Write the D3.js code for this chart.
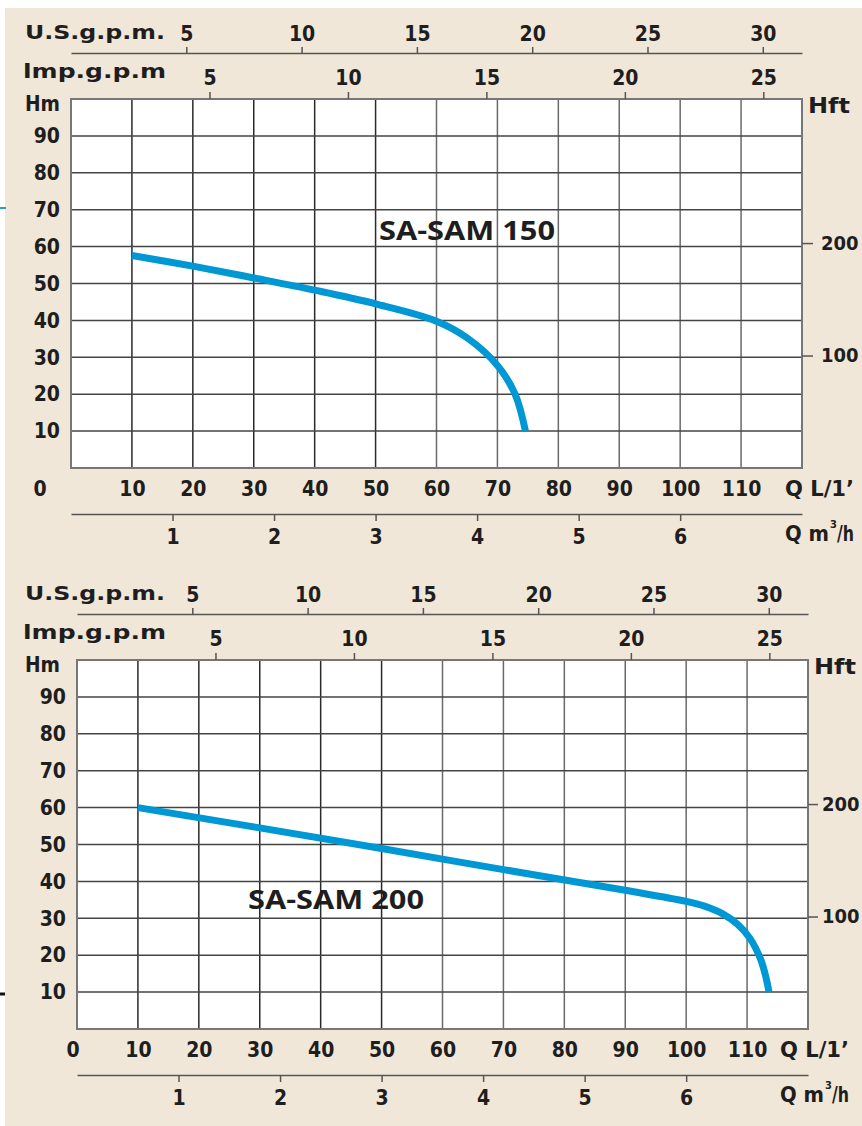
<!DOCTYPE html>
<html>
<head>
<meta charset="utf-8">
<script src="https://cdn.jsdelivr.net/npm/d3@7"></script>
<style>
  body { margin: 0; background: #ffffff; }
  svg { display: block; }
  .lbl { font-family: "DejaVu Sans Condensed", "DejaVu Sans", sans-serif; font-stretch: condensed; font-weight: bold; fill: #1e1e1e; }
</style>
</head>
<body>
<svg id="chart"></svg>
<script>
// tick labels (flow in L/min, head in m)
const flowTicks = [10, 20, 30, 40, 50, 60, 70, 80, 90, 100, 110];
const headTicks = [10, 20, 30, 40, 50, 60, 70, 80, 90];
const usGpmTicks = [5, 10, 15, 20, 25, 30];
const impGpmTicks = [5, 10, 15, 20, 25];
const m3hTicks = [1, 2, 3, 4, 5, 6];
const hftTicks = [100, 200];

// pump curves: Q (L/min) -> H (m)
const sam150Flow = [10, 20, 30, 40, 50, 60, 65, 70, 72.9, 74.6];
const sam150Head = [57.6, 54.7, 51.5, 48.2, 44.5, 39.8, 35.3, 27.8, 20, 10];
const sam200Flow = [10, 30, 50, 70, 90, 100, 103, 106, 108.5, 110.5, 112.2, 113.1, 113.6];
const sam200Head = [60, 54.5, 48.9, 43.2, 37.6, 34.6, 33.3, 31.2, 28.3, 24.5, 19, 14, 10];

const width = 862, height = 1126;
const svg = d3.select("#chart").attr("width", width).attr("height", height);

// panel background
svg.append("rect").attr("x", 5).attr("y", 8).attr("width", width - 5).attr("height", height - 8).attr("fill", "#f1e7d8");
svg.append("line").attr("x1", 0).attr("x2", 6).attr("y1", 208).attr("y2", 208).attr("stroke", "#2aa0d0").attr("stroke-width", 2);
svg.append("line").attr("x1", 0).attr("x2", 5).attr("y1", 994).attr("y2", 994).attr("stroke", "#111").attr("stroke-width", 3);

function styleAxis(g, size) {
    g.select(".domain").attr("stroke", "#555").attr("stroke-width", 1.5);
    g.selectAll(".tick line").attr("stroke", "#555").attr("stroke-width", 1.5);
    g.selectAll(".tick text").attr("class", "lbl").style("font-size", size + "px").attr("fill", "#1e1e1e");
    g.attr("font-family", null).attr("font-size", null);
}

function drawChart(cfg) {
    const x = d3.scaleLinear().domain([0, 120]).range([cfg.left, cfg.left + 731]);
    const y = d3.scaleLinear().domain([0, 100]).range([cfg.top + 369, cfg.top]);
    const bottom = y(0), right = x(120);
    const g = svg.append("g");

    // plot area
    g.append("rect").attr("x", cfg.left).attr("y", cfg.top)
        .attr("width", right - cfg.left).attr("height", bottom - cfg.top)
        .attr("fill", "#ffffff");

    g.selectAll(".vgrid").data(flowTicks).enter().append("line")
        .attr("x1", d => x(d)).attr("x2", d => x(d))
        .attr("y1", cfg.top).attr("y2", bottom)
        .attr("stroke", (d, i) => i < 5 ? "#2a2a2a" : "#6a6a6a").attr("stroke-width", 1.5);

    g.selectAll(".hgrid").data(headTicks).enter().append("line")
        .attr("x1", cfg.left).attr("x2", right)
        .attr("y1", d => y(d)).attr("y2", d => y(d))
        .attr("stroke", "#444").attr("stroke-width", 1.5);

    g.append("rect").attr("x", cfg.left).attr("y", cfg.top)
        .attr("width", right - cfg.left).attr("height", bottom - cfg.top)
        .attr("fill", "none").attr("stroke", "#777").attr("stroke-width", 2);

    // curve
    const pts = cfg.flow.map((q, i) => [q, cfg.head[i]]);
    g.append("path").datum(pts)
        .attr("d", d3.line().x(d => x(d[0])).y(d => y(d[1])).curve(d3.curveCatmullRom.alpha(0.5)))
        .attr("fill", "none").attr("stroke", "#0098d4").attr("stroke-width", 7);

    g.append("text").attr("x", cfg.titleX).attr("y", cfg.titleY)
        .attr("dominant-baseline", "central")
        .attr("textLength", 176).attr("lengthAdjust", "spacingAndGlyphs")
        .style("font-family", "'Open Sans', sans-serif").style("font-weight", 700)
        .style("font-size", "26px").attr("fill", "#1e1e1e")
        .text(cfg.title);

    // main axes
    const xAxis = g.append("g").attr("transform", `translate(0,${bottom})`)
        .call(d3.axisBottom(x).tickValues(flowTicks).tickSize(0).tickPadding(13.5));
    xAxis.select(".domain").remove();
    styleAxis(xAxis, 21);

    const yAxis = g.append("g").attr("transform", `translate(${cfg.left},0)`)
        .call(d3.axisLeft(y).tickValues(headTicks).tickSize(0).tickPadding(11));
    yAxis.select(".domain").remove();
    styleAxis(yAxis, 21);

    g.append("text").attr("class", "lbl").attr("x", cfg.zeroX).attr("y", bottom + 21)
        .attr("text-anchor", "middle").attr("dominant-baseline", "central")
        .style("font-size", "21px").text("0");

    // head in feet on the right
    const yFt = d3.scaleLinear().domain([0, 100 / 0.3048]).range([bottom, cfg.top]);
    const ftAxis = g.append("g").attr("transform", `translate(${right},0)`)
        .call(d3.axisRight(yFt).tickValues(hftTicks).tickSize(cfg.ftTick).tickPadding(cfg.ftPad).tickSizeOuter(0));
    ftAxis.select(".domain").remove();
    styleAxis(ftAxis, 20);

    // US gpm and Imp gpm on top
    const xUs = d3.scaleLinear().domain([0, 120 / 3.78541]).range(x.range());
    const usAxis = g.append("g").attr("transform", `translate(0,${cfg.top - 46})`)
        .call(d3.axisTop(xUs).tickValues(usGpmTicks).tickSize(6).tickPadding(6).tickSizeOuter(0));
    styleAxis(usAxis, 21);

    const xImp = d3.scaleLinear().domain([0, 120 / 4.54609]).range(x.range());
    const impAxis = g.append("g").attr("transform", `translate(0,${cfg.top})`)
        .call(d3.axisTop(xImp).tickValues(impGpmTicks).tickSize(7).tickPadding(7).tickSizeOuter(0));
    impAxis.select(".domain").remove();
    styleAxis(impAxis, 21);

    // m3/h below
    const xM3 = d3.scaleLinear().domain([0, 120 / 16.6667]).range(x.range());
    const m3Axis = g.append("g").attr("transform", `translate(0,${bottom + 46})`)
        .call(d3.axisBottom(xM3).tickValues(m3hTicks).tickSize(7).tickPadding(8.5).tickSizeOuter(0));
    styleAxis(m3Axis, 21);

    // unit labels
    const unit = (tx, ty, txt, size, len) => {
        const t = g.append("text").attr("class", "lbl")
            .attr("x", tx).attr("y", ty).attr("dominant-baseline", "central")
            .style("font-size", size + "px").text(txt);
        if (len) t.attr("textLength", len).attr("lengthAdjust", "spacingAndGlyphs");
        return t;
    };
    unit(cfg.unitX, cfg.top - 67, "U.S.g.p.m.", 20, 140);
    unit(cfg.unitX - 2, cfg.top - 28, "lmp.g.p.m", 20, 143);
    unit(cfg.unitX, cfg.top + 5, "Hm", 21, 35);
    unit(right + 6, cfg.top + 6, "Hft", 22, 42);
    unit(cfg.qX, bottom + 20, "Q L/1\u2019", 22, 69);
    unit(cfg.qX, bottom + 65, "Q m", 22, 44);
    unit(cfg.qX + 45, bottom + 56, "3", 11);
    unit(cfg.qX + 52, bottom + 65, "/h", 22, 17);
}

drawChart({ left: 71, top: 99, flow: sam150Flow, head: sam150Head, title: "SA-SAM 150",
    titleX: 379, titleY: 230, zeroX: 40, unitX: 25, qX: 785, ftTick: 11, ftPad: 8 });
drawChart({ left: 77, top: 660, flow: sam200Flow, head: sam200Head, title: "SA-SAM 200",
    titleX: 248, titleY: 899, zeroX: 73, unitX: 25, qX: 780, ftTick: 10, ftPad: 4 });
</script>
</body>
</html>
